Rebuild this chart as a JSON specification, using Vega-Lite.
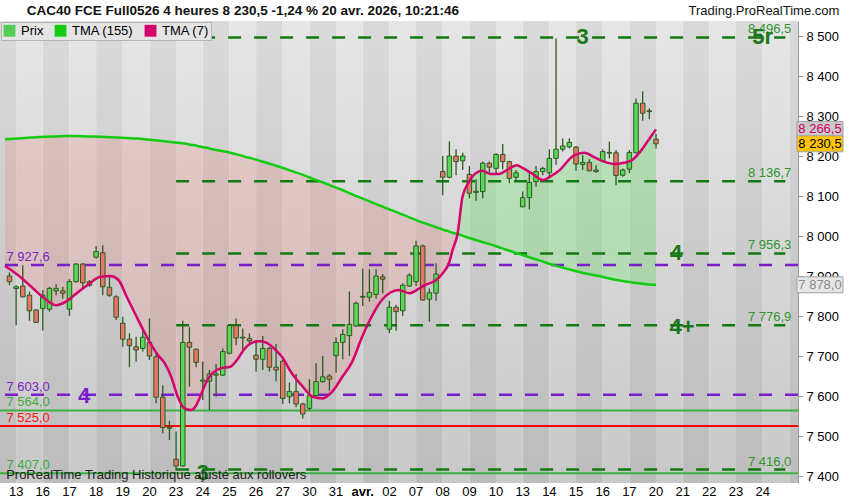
{
  "$schema": "https://vega.github.io/schema/vega-lite/v6.json",
  "width": 798,
  "height": 462,
  "autosize": "none",
  "padding": {"left": 0, "top": 21, "right": 52, "bottom": 17},
  "background": "white",
  "config": {"font": "Liberation Sans", "view": {"stroke": null}},
  "datasets": {
    "days": [
      {"b0": 0, "b1": 4, "alt": 0, "lab": "12"}, {"b0": 4, "b1": 8, "alt": 1, "lab": "13"}, {"b0": 8, "b1": 12, "alt": 0, "lab": "16"},
      {"b0": 12, "b1": 16, "alt": 1, "lab": "17"}, {"b0": 16, "b1": 20, "alt": 0, "lab": "18"}, {"b0": 20, "b1": 24, "alt": 1, "lab": "19"},
      {"b0": 24, "b1": 28, "alt": 0, "lab": "20"}, {"b0": 28, "b1": 32, "alt": 1, "lab": "23"}, {"b0": 32, "b1": 36, "alt": 0, "lab": "24"},
      {"b0": 36, "b1": 40, "alt": 1, "lab": "25"}, {"b0": 40, "b1": 44, "alt": 0, "lab": "26"}, {"b0": 44, "b1": 48, "alt": 1, "lab": "27"},
      {"b0": 48, "b1": 52, "alt": 0, "lab": "30"}, {"b0": 52, "b1": 56, "alt": 1, "lab": "31"}, {"b0": 56, "b1": 60, "alt": 0, "lab": "avr."},
      {"b0": 60, "b1": 64, "alt": 1, "lab": "02"}, {"b0": 64, "b1": 68, "alt": 0, "lab": "07"}, {"b0": 68, "b1": 72, "alt": 1, "lab": "08"},
      {"b0": 72, "b1": 76, "alt": 0, "lab": "09"}, {"b0": 76, "b1": 80, "alt": 1, "lab": "10"}, {"b0": 80, "b1": 84, "alt": 0, "lab": "13"},
      {"b0": 84, "b1": 88, "alt": 1, "lab": "14"}, {"b0": 88, "b1": 92, "alt": 0, "lab": "15"}, {"b0": 92, "b1": 96, "alt": 1, "lab": "16"},
      {"b0": 96, "b1": 100, "alt": 0, "lab": "17"}, {"b0": 100, "b1": 104, "alt": 1, "lab": "20"}, {"b0": 104, "b1": 108, "alt": 0, "lab": "21"},
      {"b0": 108, "b1": 112, "alt": 1, "lab": "22"}, {"b0": 112, "b1": 116, "alt": 0, "lab": "23"}, {"b0": 116, "b1": 120, "alt": 1, "lab": "24"},
      {"b0": 120, "b1": 124, "alt": 0, "lab": ""}
    ],
    "tma": [
      {"b": 2.33, "t7": 7925, "t155": 8242, "z": "r"}, {"b": 4.3, "t7": 7902, "t155": 8244, "z": "r"},
      {"b": 6.28, "t7": 7873, "t155": 8246, "z": "r"}, {"b": 8.25, "t7": 7844, "t155": 8248, "z": "r"},
      {"b": 9.99, "t7": 7827, "t155": 8249, "z": "r"}, {"b": 11.47, "t7": 7836, "t155": 8250, "z": "r"},
      {"b": 12.95, "t7": 7855, "t155": 8250, "z": "r"}, {"b": 14.67, "t7": 7877, "t155": 8249, "z": "r"},
      {"b": 16.65, "t7": 7898, "t155": 8248, "z": "r"}, {"b": 18.13, "t7": 7900, "t155": 8247, "z": "r"},
      {"b": 19.36, "t7": 7890, "t155": 8246, "z": "r"}, {"b": 20.59, "t7": 7848, "t155": 8245, "z": "r"},
      {"b": 22.07, "t7": 7798, "t155": 8244, "z": "r"}, {"b": 23.32, "t7": 7757, "t155": 8242, "z": "r"},
      {"b": 24.3, "t7": 7727, "t155": 8240, "z": "r"}, {"b": 25.29, "t7": 7702, "t155": 8239, "z": "r"},
      {"b": 26.28, "t7": 7682, "t155": 8237, "z": "r"}, {"b": 27.26, "t7": 7648, "t155": 8235, "z": "r"},
      {"b": 28.25, "t7": 7598, "t155": 8233, "z": "r"}, {"b": 29.24, "t7": 7569, "t155": 8231, "z": "r"},
      {"b": 30.22, "t7": 7565, "t155": 8228, "z": "r"}, {"b": 30.96, "t7": 7575, "t155": 8226, "z": "r"},
      {"b": 31.7, "t7": 7602, "t155": 8223, "z": "r"}, {"b": 32.44, "t7": 7632, "t155": 8221, "z": "r"},
      {"b": 33.44, "t7": 7657, "t155": 8217, "z": "r"}, {"b": 34.67, "t7": 7669, "t155": 8213, "z": "r"},
      {"b": 36.15, "t7": 7673, "t155": 8208, "z": "r"}, {"b": 37.14, "t7": 7690, "t155": 8204, "z": "r"},
      {"b": 38.13, "t7": 7715, "t155": 8199, "z": "r"}, {"b": 39.36, "t7": 7733, "t155": 8194, "z": "r"},
      {"b": 40.59, "t7": 7737, "t155": 8188, "z": "r"}, {"b": 41.59, "t7": 7733, "t155": 8183, "z": "r"},
      {"b": 43.07, "t7": 7713, "t155": 8175, "z": "r"}, {"b": 44.06, "t7": 7694, "t155": 8170, "z": "r"},
      {"b": 45.04, "t7": 7665, "t155": 8164, "z": "r"}, {"b": 47.02, "t7": 7623, "t155": 8153, "z": "r"},
      {"b": 48.5, "t7": 7598, "t155": 8143, "z": "r"}, {"b": 49.99, "t7": 7594, "t155": 8134, "z": "r"},
      {"b": 51.21, "t7": 7607, "t155": 8126, "z": "r"}, {"b": 52.95, "t7": 7648, "t155": 8115, "z": "r"},
      {"b": 54.43, "t7": 7686, "t155": 8104, "z": "r"}, {"b": 55.91, "t7": 7748, "t155": 8094, "z": "r"},
      {"b": 57.39, "t7": 7800, "t155": 8084, "z": "r"}, {"b": 58.87, "t7": 7840, "t155": 8074, "z": "r"},
      {"b": 60.1, "t7": 7858, "t155": 8066, "z": "r"}, {"b": 61.33, "t7": 7865, "t155": 8058, "z": "r"},
      {"b": 63.07, "t7": 7857, "t155": 8046, "z": "r"}, {"b": 64.3, "t7": 7867, "t155": 8038, "z": "r"},
      {"b": 65.29, "t7": 7877, "t155": 8032, "z": "r"}, {"b": 67.02, "t7": 7890, "t155": 8022, "z": "r"},
      {"b": 68.0, "t7": 7907, "t155": 8016, "z": "r"}, {"b": 69.0, "t7": 7935, "t155": 8011, "z": "r"},
      {"b": 69.48, "t7": 7965, "t155": 8008, "z": "r"}, {"b": 70.22, "t7": 8005, "t155": 8005, "z": "r"},
      {"b": 70.22, "t7": 8005, "t155": 8005, "z": "g"}, {"b": 70.96, "t7": 8098, "t155": 8001, "z": "g"},
      {"b": 71.96, "t7": 8136, "t155": 7995, "z": "g"}, {"b": 72.95, "t7": 8157, "t155": 7990, "z": "g"},
      {"b": 73.93, "t7": 8163, "t155": 7985, "z": "g"}, {"b": 75.17, "t7": 8155, "t155": 7979, "z": "g"},
      {"b": 76.4, "t7": 8155, "t155": 7972, "z": "g"}, {"b": 77.63, "t7": 8165, "t155": 7965, "z": "g"},
      {"b": 79.11, "t7": 8177, "t155": 7957, "z": "g"}, {"b": 80.1, "t7": 8169, "t155": 7952, "z": "g"},
      {"b": 81.33, "t7": 8157, "t155": 7945, "z": "g"}, {"b": 83.07, "t7": 8140, "t155": 7936, "z": "g"},
      {"b": 84.06, "t7": 8148, "t155": 7930, "z": "g"}, {"b": 85.29, "t7": 8161, "t155": 7924, "z": "g"},
      {"b": 87.76, "t7": 8202, "t155": 7913, "z": "g"}, {"b": 89.24, "t7": 8208, "t155": 7907, "z": "g"},
      {"b": 90.73, "t7": 8197, "t155": 7902, "z": "g"}, {"b": 92.21, "t7": 8186, "t155": 7897, "z": "g"},
      {"b": 93.69, "t7": 8180, "t155": 7891, "z": "g"}, {"b": 95.17, "t7": 8183, "t155": 7887, "z": "g"},
      {"b": 96.4, "t7": 8190, "t155": 7884, "z": "g"}, {"b": 97.63, "t7": 8211, "t155": 7881, "z": "g"},
      {"b": 98.87, "t7": 8240, "t155": 7879, "z": "g"}, {"b": 100, "t7": 8266.5, "t155": 7878, "z": "g"}
    ],
    "candles": [
      {"b": 3, "o": 7900, "h": 7909, "l": 7877, "c": 7886}, {"b": 4, "o": 7869, "h": 7877, "l": 7777, "c": 7873},
      {"b": 5, "o": 7875, "h": 7927, "l": 7846, "c": 7848}, {"b": 6, "o": 7852, "h": 7861, "l": 7788, "c": 7813},
      {"b": 7, "o": 7815, "h": 7817, "l": 7783, "c": 7784}, {"b": 8, "o": 7819, "h": 7865, "l": 7763, "c": 7852},
      {"b": 9, "o": 7817, "h": 7873, "l": 7811, "c": 7869}, {"b": 10, "o": 7863, "h": 7880, "l": 7852, "c": 7869},
      {"b": 11, "o": 7863, "h": 7873, "l": 7844, "c": 7857}, {"b": 12, "o": 7817, "h": 7892, "l": 7800, "c": 7886},
      {"b": 13, "o": 7886, "h": 7932, "l": 7883, "c": 7930}, {"b": 14, "o": 7930, "h": 7932, "l": 7867, "c": 7883},
      {"b": 15, "o": 7886, "h": 7890, "l": 7873, "c": 7877}, {"b": 16, "o": 7947, "h": 7975, "l": 7944, "c": 7961},
      {"b": 17, "o": 7958, "h": 7977, "l": 7852, "c": 7873}, {"b": 18, "o": 7872, "h": 7900, "l": 7848, "c": 7852},
      {"b": 19, "o": 7848, "h": 7852, "l": 7790, "c": 7797}, {"b": 20, "o": 7782, "h": 7798, "l": 7723, "c": 7742},
      {"b": 21, "o": 7742, "h": 7757, "l": 7672, "c": 7726}, {"b": 22, "o": 7723, "h": 7748, "l": 7686, "c": 7715},
      {"b": 23, "o": 7719, "h": 7765, "l": 7711, "c": 7747}, {"b": 24, "o": 7734, "h": 7794, "l": 7690, "c": 7700},
      {"b": 25, "o": 7698, "h": 7712, "l": 7582, "c": 7597}, {"b": 26, "o": 7597, "h": 7627, "l": 7507, "c": 7521},
      {"b": 27, "o": 7522, "h": 7538, "l": 7490, "c": 7519}, {"b": 28, "o": 7442, "h": 7511, "l": 7413, "c": 7425},
      {"b": 29, "o": 7425, "h": 7788, "l": 7423, "c": 7734}, {"b": 30, "o": 7734, "h": 7772, "l": 7623, "c": 7722},
      {"b": 31, "o": 7717, "h": 7719, "l": 7672, "c": 7684}, {"b": 32, "o": 7637, "h": 7686, "l": 7590, "c": 7640},
      {"b": 33, "o": 7637, "h": 7665, "l": 7565, "c": 7655}, {"b": 34, "o": 7652, "h": 7680, "l": 7598, "c": 7655},
      {"b": 35, "o": 7652, "h": 7719, "l": 7650, "c": 7711}, {"b": 36, "o": 7707, "h": 7780, "l": 7704, "c": 7776},
      {"b": 37, "o": 7776, "h": 7794, "l": 7727, "c": 7745}, {"b": 38, "o": 7745, "h": 7769, "l": 7715, "c": 7747},
      {"b": 39, "o": 7744, "h": 7757, "l": 7732, "c": 7738}, {"b": 40, "o": 7702, "h": 7740, "l": 7661, "c": 7692},
      {"b": 41, "o": 7692, "h": 7750, "l": 7665, "c": 7719}, {"b": 42, "o": 7719, "h": 7723, "l": 7661, "c": 7672},
      {"b": 43, "o": 7672, "h": 7730, "l": 7636, "c": 7665}, {"b": 44, "o": 7687, "h": 7694, "l": 7580, "c": 7594},
      {"b": 45, "o": 7598, "h": 7634, "l": 7582, "c": 7611}, {"b": 46, "o": 7611, "h": 7655, "l": 7572, "c": 7580},
      {"b": 47, "o": 7580, "h": 7583, "l": 7544, "c": 7555}, {"b": 48, "o": 7569, "h": 7642, "l": 7565, "c": 7601},
      {"b": 49, "o": 7601, "h": 7682, "l": 7598, "c": 7636}, {"b": 50, "o": 7636, "h": 7700, "l": 7633, "c": 7648},
      {"b": 51, "o": 7650, "h": 7655, "l": 7613, "c": 7642}, {"b": 52, "o": 7701, "h": 7747, "l": 7658, "c": 7734},
      {"b": 53, "o": 7734, "h": 7767, "l": 7692, "c": 7754}, {"b": 54, "o": 7751, "h": 7861, "l": 7700, "c": 7779},
      {"b": 55, "o": 7775, "h": 7836, "l": 7773, "c": 7832}, {"b": 56, "o": 7847, "h": 7919, "l": 7825, "c": 7849},
      {"b": 57, "o": 7847, "h": 7917, "l": 7836, "c": 7859}, {"b": 58, "o": 7854, "h": 7917, "l": 7844, "c": 7900},
      {"b": 59, "o": 7898, "h": 7905, "l": 7857, "c": 7892}, {"b": 60, "o": 7767, "h": 7838, "l": 7757, "c": 7822},
      {"b": 61, "o": 7822, "h": 7828, "l": 7763, "c": 7811}, {"b": 62, "o": 7813, "h": 7882, "l": 7800, "c": 7877},
      {"b": 63, "o": 7875, "h": 7907, "l": 7873, "c": 7902}, {"b": 64, "o": 7886, "h": 7988, "l": 7875, "c": 7975},
      {"b": 65, "o": 7975, "h": 7979, "l": 7838, "c": 7840}, {"b": 66, "o": 7842, "h": 7869, "l": 7786, "c": 7858},
      {"b": 67, "o": 7857, "h": 7932, "l": 7838, "c": 7905}, {"b": 68, "o": 8161, "h": 8200, "l": 8102, "c": 8147},
      {"b": 69, "o": 8147, "h": 8237, "l": 8144, "c": 8200}, {"b": 70, "o": 8200, "h": 8217, "l": 8152, "c": 8186},
      {"b": 71, "o": 8188, "h": 8208, "l": 8165, "c": 8200}, {"b": 72, "o": 8154, "h": 8175, "l": 8094, "c": 8107},
      {"b": 73, "o": 8112, "h": 8142, "l": 8088, "c": 8109}, {"b": 74, "o": 8111, "h": 8186, "l": 8094, "c": 8182},
      {"b": 75, "o": 8182, "h": 8186, "l": 8158, "c": 8172}, {"b": 76, "o": 8169, "h": 8207, "l": 8157, "c": 8204},
      {"b": 77, "o": 8204, "h": 8230, "l": 8167, "c": 8186}, {"b": 78, "o": 8186, "h": 8188, "l": 8132, "c": 8144},
      {"b": 79, "o": 8147, "h": 8165, "l": 8140, "c": 8158}, {"b": 80, "o": 8073, "h": 8111, "l": 8072, "c": 8096},
      {"b": 81, "o": 8096, "h": 8157, "l": 8067, "c": 8134}, {"b": 82, "o": 8136, "h": 8175, "l": 8123, "c": 8161},
      {"b": 83, "o": 8161, "h": 8173, "l": 8152, "c": 8169}, {"b": 84, "o": 8158, "h": 8217, "l": 8150, "c": 8194},
      {"b": 85, "o": 8194, "h": 8494, "l": 8178, "c": 8217}, {"b": 86, "o": 8217, "h": 8244, "l": 8211, "c": 8225},
      {"b": 87, "o": 8223, "h": 8244, "l": 8219, "c": 8234}, {"b": 88, "o": 8222, "h": 8225, "l": 8163, "c": 8180},
      {"b": 89, "o": 8179, "h": 8202, "l": 8165, "c": 8184}, {"b": 90, "o": 8184, "h": 8192, "l": 8162, "c": 8163},
      {"b": 91, "o": 8165, "h": 8177, "l": 8158, "c": 8161}, {"b": 92, "o": 8188, "h": 8217, "l": 8186, "c": 8211},
      {"b": 93, "o": 8209, "h": 8236, "l": 8194, "c": 8207}, {"b": 94, "o": 8208, "h": 8215, "l": 8127, "c": 8151},
      {"b": 95, "o": 8152, "h": 8169, "l": 8148, "c": 8165}, {"b": 96, "o": 8167, "h": 8215, "l": 8157, "c": 8209},
      {"b": 97, "o": 8208, "h": 8344, "l": 8207, "c": 8332}, {"b": 98, "o": 8332, "h": 8362, "l": 8288, "c": 8307},
      {"b": 99, "o": 8313, "h": 8319, "l": 8292, "c": 8311}, {"b": 100, "o": 8242, "h": 8255, "l": 8219, "c": 8230.5}
    ],
    "levels": [
      {"p": 8496.5, "lab": "8 496,5", "k": "gd"}, {"p": 8136.7, "lab": "8 136,7", "k": "gd"},
      {"p": 7956.3, "lab": "7 956,3", "k": "gd"}, {"p": 7776.9, "lab": "7 776,9", "k": "gd"},
      {"p": 7416.0, "lab": "7 416,0", "k": "gd"}, {"p": 7927.6, "lab": "7 927,6", "k": "pd"},
      {"p": 7603.0, "lab": "7 603,0", "k": "pd"}, {"p": 7564.0, "lab": "7 564,0", "k": "gs"},
      {"p": 7525.0, "lab": "7 525,0", "k": "rs"}, {"p": 7407.0, "lab": "7 407,0", "k": "gs"}
    ],
    "notes": [
      {"b": 89, "p": 8497, "t": "3", "k": "g"}, {"b": 116, "p": 8497, "t": "5r", "k": "g"},
      {"b": 103, "p": 7957, "t": "4", "k": "g"}, {"b": 103.9, "p": 7772, "t": "4+", "k": "g"},
      {"b": 14.2, "p": 7601, "t": "4", "k": "v"}, {"b": 32, "p": 7407, "t": "3", "k": "g"}
    ],
    "tags": [
      {"p": 8266.5, "lab": "8 266,5", "k": "m"}, {"p": 8230.5, "lab": "8 230,5", "k": "y"},
      {"p": 7878.0, "lab": "7 878,0", "k": "s"}
    ],
    "header": [
      {"t": "CAC40 FCE Full0526 4 heures 8 230,5 -1,24 % 20 avr. 2026, 10:21:46", "k": "title"},
      {"t": "Trading.ProRealTime.com", "k": "site"}
    ]
  },
  "layer": [
    {
      "data": {"name": "days"},
      "transform": [{"filter": "datum.alt == 0"}],
      "mark": {"type": "rect", "clip": true, "fill": {"gradient": "linear", "x1": 0, "y1": 0, "x2": 0, "y2": 1,
        "stops": [{"offset": 0, "color": "#dadada"}, {"offset": 1, "color": "#bcbcbc"}]}},
      "encoding": {
        "x": {"field": "b0", "type": "quantitative", "title": null,
          "scale": {"domain": [2.33, 120.55], "nice": false, "zero": false},
          "axis": {"labels": false, "ticks": false, "domain": false, "grid": false}},
        "x2": {"field": "b1"}
      }
    },
    {
      "data": {"name": "days"},
      "transform": [{"filter": "datum.alt == 1"}],
      "mark": {"type": "rect", "clip": true, "fill": {"gradient": "linear", "x1": 0, "y1": 0, "x2": 0, "y2": 1,
        "stops": [{"offset": 0, "color": "#e6e6e6"}, {"offset": 1, "color": "#c8c8c8"}]}},
      "encoding": {
        "x": {"field": "b0", "type": "quantitative", "title": null},
        "x2": {"field": "b1"}
      }
    },
    {
      "data": {"name": "days"},
      "transform": [{"filter": "datum.b0 >= 4 && datum.lab != ''"}],
      "mark": {"type": "text", "align": "center", "baseline": "middle", "fontSize": 13, "color": "#000000"},
      "encoding": {
        "x": {"field": "b0", "type": "quantitative", "title": null},
        "y": {"datum": 7360},
        "text": {"field": "lab"},
        "opacity": {"condition": {"test": "datum.lab == 'avr.'", "value": 0}, "value": 1}
      }
    },
    {
      "data": {"name": "days"},
      "transform": [{"filter": "datum.lab == 'avr.'"}],
      "mark": {"type": "text", "align": "center", "baseline": "middle", "fontSize": 13, "fontWeight": "bold", "color": "#000000"},
      "encoding": {
        "x": {"field": "b0", "type": "quantitative", "title": null},
        "y": {"datum": 7360},
        "text": {"field": "lab"}
      }
    },
    {
      "data": {"name": "tma"},
      "transform": [{"filter": "datum.z == 'r'"}],
      "mark": {"type": "area", "color": "#f07878", "opacity": 0.22, "interpolate": "monotone"},
      "encoding": {
        "x": {"field": "b", "type": "quantitative", "title": null},
        "y": {"field": "t155", "type": "quantitative", "title": null,
          "scale": {"domain": [7382.5, 8537.5], "nice": false, "zero": false},
          "axis": {"orient": "right", "values": [7400, 7500, 7600, 7700, 7800, 7900, 8000, 8100, 8200, 8300, 8400, 8500],
            "labelExpr": "replace(format(datum.value, ','), ',', ' ')", "labelFontSize": 13, "labelColor": "#000000",
            "tickColor": "#9a9a9a", "tickSize": 5, "domainColor": "#9a9a9a", "grid": false, "labelPadding": 3}},
        "y2": {"field": "t7"}
      }
    },
    {
      "data": {"name": "tma"},
      "transform": [{"filter": "datum.z == 'g'"}],
      "mark": {"type": "area", "color": "#6fe86f", "opacity": 0.33, "interpolate": "monotone"},
      "encoding": {
        "x": {"field": "b", "type": "quantitative", "title": null},
        "y": {"field": "t155", "type": "quantitative", "title": null},
        "y2": {"field": "t7"}
      }
    },
    {
      "data": {"name": "levels"},
      "transform": [{"filter": "datum.k == 'pd'"}],
      "mark": {"type": "rule", "color": "#7a1fc8", "strokeWidth": 2.5, "strokeDash": [13, 13]},
      "encoding": {"y": {"field": "p", "type": "quantitative", "title": null}}
    },
    {
      "data": {"name": "levels"},
      "transform": [{"filter": "datum.k == 'gs' || datum.k == 'rs'"}],
      "mark": {"type": "rule", "strokeWidth": 2},
      "encoding": {
        "y": {"field": "p", "type": "quantitative", "title": null},
        "color": {"condition": {"test": "datum.k == 'rs'", "value": "#ff0000"}, "value": "#3cb043"}
      }
    },
    {
      "data": {"name": "levels"},
      "transform": [{"filter": "datum.k == 'gd'"}],
      "mark": {"type": "rule", "color": "#117a11", "strokeWidth": 2.5, "strokeDash": [13, 13]},
      "encoding": {
        "x": {"datum": 28},
        "x2": {"datum": 119.4},
        "y": {"field": "p", "type": "quantitative", "title": null}
      }
    },
    {
      "data": {"name": "levels"},
      "transform": [{"filter": "datum.k != 'gd'"}],
      "mark": {"type": "text", "align": "left", "baseline": "alphabetic", "dy": -4, "fontSize": 13},
      "encoding": {
        "x": {"datum": 2.55},
        "y": {"field": "p", "type": "quantitative", "title": null},
        "text": {"field": "lab"},
        "color": {"condition": [{"test": "datum.k == 'pd'", "value": "#7a22c4"}, {"test": "datum.k == 'rs'", "value": "#ff1010"}], "value": "#3fa83f"}
      }
    },
    {
      "data": {"name": "levels"},
      "transform": [{"filter": "datum.k == 'gd'"}],
      "mark": {"type": "text", "align": "right", "baseline": "alphabetic", "dy": -4, "fontSize": 13, "color": "#2f942f"},
      "encoding": {
        "x": {"datum": 120.3},
        "y": {"field": "p", "type": "quantitative", "title": null},
        "text": {"field": "lab"}
      }
    },
    {
      "data": {"name": "candles"},
      "mark": {"type": "rule", "color": "#2e5a1e", "strokeWidth": 1.3},
      "encoding": {
        "x": {"field": "b", "type": "quantitative", "title": null},
        "y": {"field": "l", "type": "quantitative", "title": null},
        "y2": {"field": "h"}
      }
    },
    {
      "data": {"name": "candles"},
      "mark": {"type": "bar", "size": 4.5, "stroke": "#2e5a1e", "strokeWidth": 1},
      "encoding": {
        "x": {"field": "b", "type": "quantitative", "title": null},
        "y": {"field": "o", "type": "quantitative", "title": null},
        "y2": {"field": "c"},
        "fill": {"condition": {"test": "datum.c >= datum.o", "value": "#58d858"}, "value": "#e8756a"}
      }
    },
    {
      "data": {"name": "tma"},
      "transform": [{"fold": ["t155", "t7"], "as": ["s", "v"]}],
      "mark": {"type": "line", "strokeWidth": 2.5, "interpolate": "monotone"},
      "encoding": {
        "x": {"field": "b", "type": "quantitative", "title": null},
        "y": {"field": "v", "type": "quantitative", "title": null},
        "color": {"field": "s", "type": "nominal",
          "scale": {"domain": ["prix", "t155", "t7"], "range": ["#55cc55", "#11cc11", "#d4006c"]},
          "legend": {"title": null, "orient": "top-left", "offset": 1, "direction": "horizontal",
            "labelExpr": "{'prix': 'Prix', 't155': 'TMA (155)', 't7': 'TMA (7)'}[datum.label]",
            "symbolType": "square", "symbolSize": 140, "symbolStrokeWidth": 0, "symbolOpacity": 1,
            "labelFontSize": 13, "labelColor": "#000000", "columnPadding": 10, "labelOffset": 5,
            "fillColor": "#e4e4e4", "strokeColor": "#b4b4b4", "padding": 2,
            "encode": {"symbols": {"update": {"fill": {"scale": "color", "field": "value"}, "stroke": {"value": "transparent"}}}}}}
      }
    },
    {
      "data": {"name": "notes"},
      "mark": {"type": "text", "align": "center", "baseline": "middle", "fontSize": 22, "fontWeight": "bold"},
      "encoding": {
        "x": {"field": "b", "type": "quantitative", "title": null},
        "y": {"field": "p", "type": "quantitative", "title": null},
        "text": {"field": "t"},
        "color": {"condition": {"test": "datum.k == 'v'", "value": "#7a1fcc"}, "value": "#1a761a"}
      }
    },
    {
      "data": {"name": "tags"},
      "mark": {"type": "tick", "orient": "horizontal", "size": 46, "thickness": 16, "stroke": "#a0a0a0", "strokeWidth": 1, "opacity": 1},
      "encoding": {
        "x": {"datum": 124.6},
        "y": {"field": "p", "type": "quantitative", "title": null},
        "color": {"condition": [{"test": "datum.k == 'm'", "value": "#c9c9c9"}, {"test": "datum.k == 'y'", "value": "#ffc400"}], "value": "#e6e6e6"}
      }
    },
    {
      "data": {"name": "tags"},
      "mark": {"type": "text", "align": "center", "baseline": "middle", "fontSize": 13},
      "encoding": {
        "x": {"datum": 124.6},
        "y": {"field": "p", "type": "quantitative", "title": null},
        "text": {"field": "lab"},
        "color": {"condition": [{"test": "datum.k == 'm'", "value": "#cc0066"}, {"test": "datum.k == 'y'", "value": "#000000"}], "value": "#8a8a8a"}
      }
    },
    {
      "data": {"values": [{"t": "ProRealTime Trading  Historique ajusté aux rollovers"}]},
      "mark": {"type": "text", "align": "left", "baseline": "alphabetic", "fontSize": 13, "color": "#222222"},
      "encoding": {"x": {"datum": 2.5}, "y": {"datum": 7392.5}, "text": {"field": "t"}}
    },
    {
      "data": {"name": "header"},
      "transform": [{"filter": "datum.k == 'title'"}],
      "mark": {"type": "text", "align": "left", "baseline": "alphabetic", "fontSize": 13.5, "fontWeight": "bold", "color": "#111111"},
      "encoding": {"x": {"datum": 5.6}, "y": {"datum": 8552.5}, "text": {"field": "t"}}
    },
    {
      "data": {"name": "header"},
      "transform": [{"filter": "datum.k == 'site'"}],
      "mark": {"type": "text", "align": "right", "baseline": "alphabetic", "fontSize": 13, "color": "#111111"},
      "encoding": {"x": {"datum": 127.5}, "y": {"datum": 8552.5}, "text": {"field": "t"}}
    }
  ]
}
